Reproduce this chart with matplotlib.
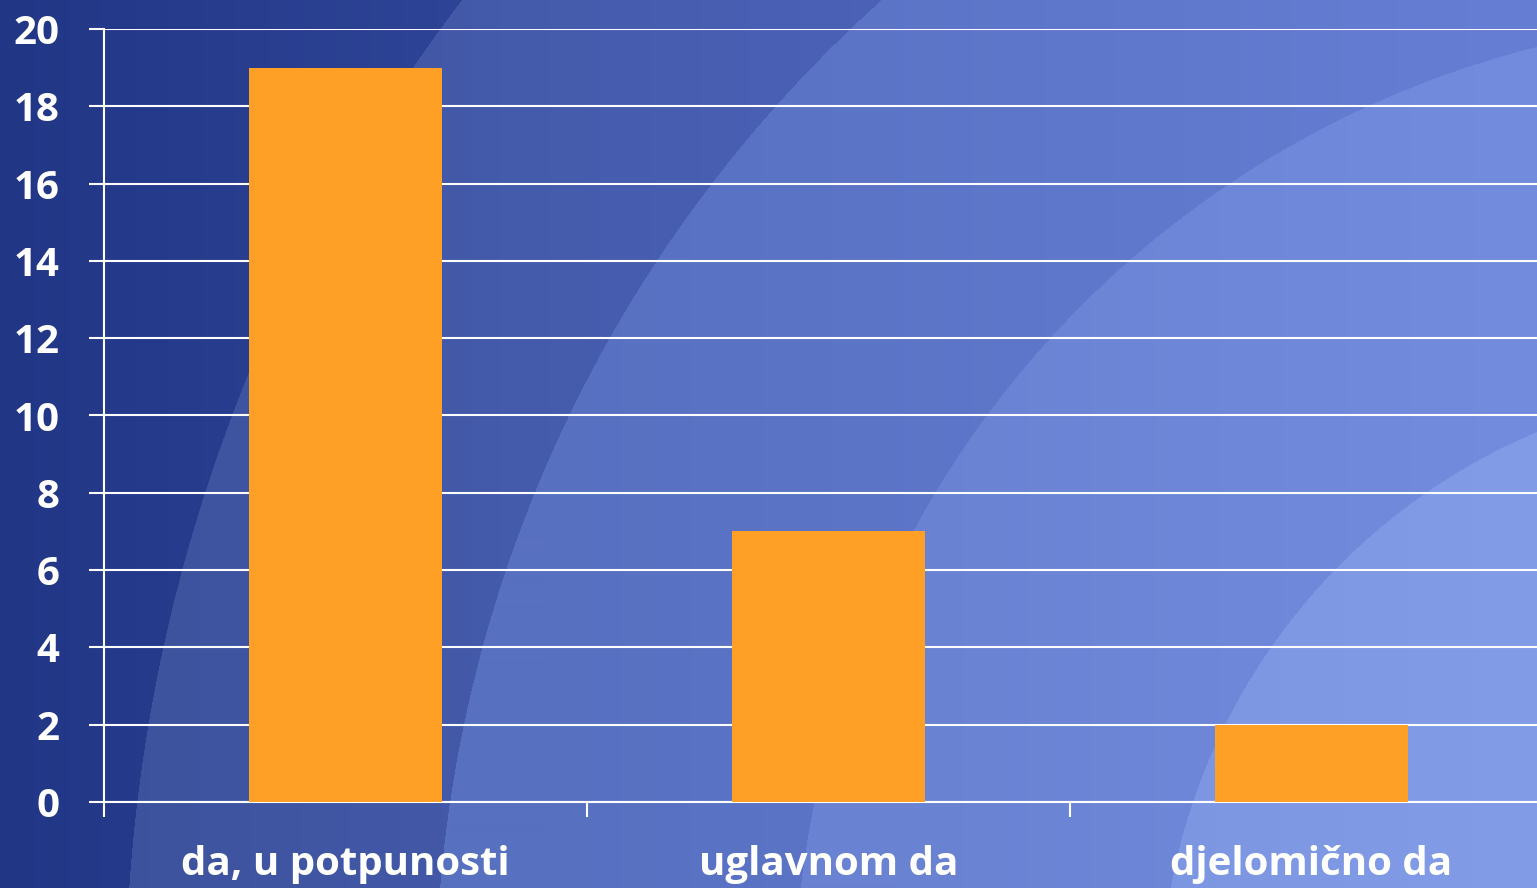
import numpy as np
import matplotlib
matplotlib.use("Agg")
import matplotlib.pyplot as plt
from matplotlib.ticker import FixedLocator

categories = ["da, u potpunosti", "uglavnom da", "djelomično da"]
values = [19, 7, 2]
yticks = [0, 2, 4, 6, 8, 10, 12, 14, 16, 18, 20]

W, H = 1537, 888
fig = plt.figure(figsize=(W / 100, H / 100), dpi=100)

# background: concentric light bands centred off the bottom-right
bg = fig.add_axes([0, 0, 1, 1], zorder=0)
yy, xx = np.mgrid[0:H, 0:W]
r = np.hypot(xx - 1775, yy - 999)
band = np.zeros_like(r, dtype=int)
for rad in (1650, 1340, 981, 615):
    band += (r < rad).astype(int)
# per band: (x_lo, colour_lo, x_hi, colour_hi)
band_grad = [
    (0, (34, 54, 134), 470, (46, 68, 150)),
    (100, (60, 82, 156), 900, (76, 98, 184)),
    (550, (88, 112, 192), 1537, (102, 126, 212)),
    (900, (106, 130, 210), 1537, (116, 140, 222)),
    (1150, (124, 150, 226), 1537, (130, 156, 232)),
]
img = np.zeros((H, W, 3))
for k, (x0, c0, x1, c1) in enumerate(band_grad):
    t = np.clip((xx - x0) / (x1 - x0), 0, 1)[..., None]
    col = np.array(c0) * (1 - t) + np.array(c1) * t
    mask = band == k
    img[mask] = col[mask]
img = img / 255.0
bg.imshow(img, extent=[0, W, H, 0], aspect="auto", interpolation="bilinear")
bg.set_xlim(0, W)
bg.set_ylim(H, 0)
bg.axis("off")

ax = fig.add_axes([104 / W, 86 / H, (1553 - 104) / W, (802 - 29) / H], zorder=1)
ax.patch.set_alpha(0)
x = np.arange(len(categories))
ax.bar(x, values, width=0.4, color="#FEA026", zorder=3)
ax.set_xlim(-0.5, 2.5)
ax.set_ylim(0, 20)
ax.set_yticks(yticks)
ax.yaxis.grid(True, color="white", linewidth=1.5, zorder=1)
ax.set_axisbelow(True)
for s in ("top", "right"):
    ax.spines[s].set_visible(False)
for s in ("left", "bottom"):
    ax.spines[s].set_color("white")
    ax.spines[s].set_linewidth(1.5)

font = "Open Sans"
ax.set_xticks(x)
ax.set_xticklabels(categories)
ax.xaxis.set_minor_locator(FixedLocator([-0.5, 0.5, 1.5]))
ax.tick_params(axis="x", which="major", length=0, pad=31, labelsize=29, labelcolor="white")
ax.tick_params(axis="x", which="minor", length=11, width=1.5, color="white", direction="out")
ax.tick_params(axis="y", length=11, width=1.5, color="white", direction="out", pad=21,
               labelsize=29, labelcolor="white")
for lab in ax.get_xticklabels() + ax.get_yticklabels():
    lab.set_fontfamily(font)
    lab.set_fontweight("bold")

fig.savefig("out.png", dpi=100)
